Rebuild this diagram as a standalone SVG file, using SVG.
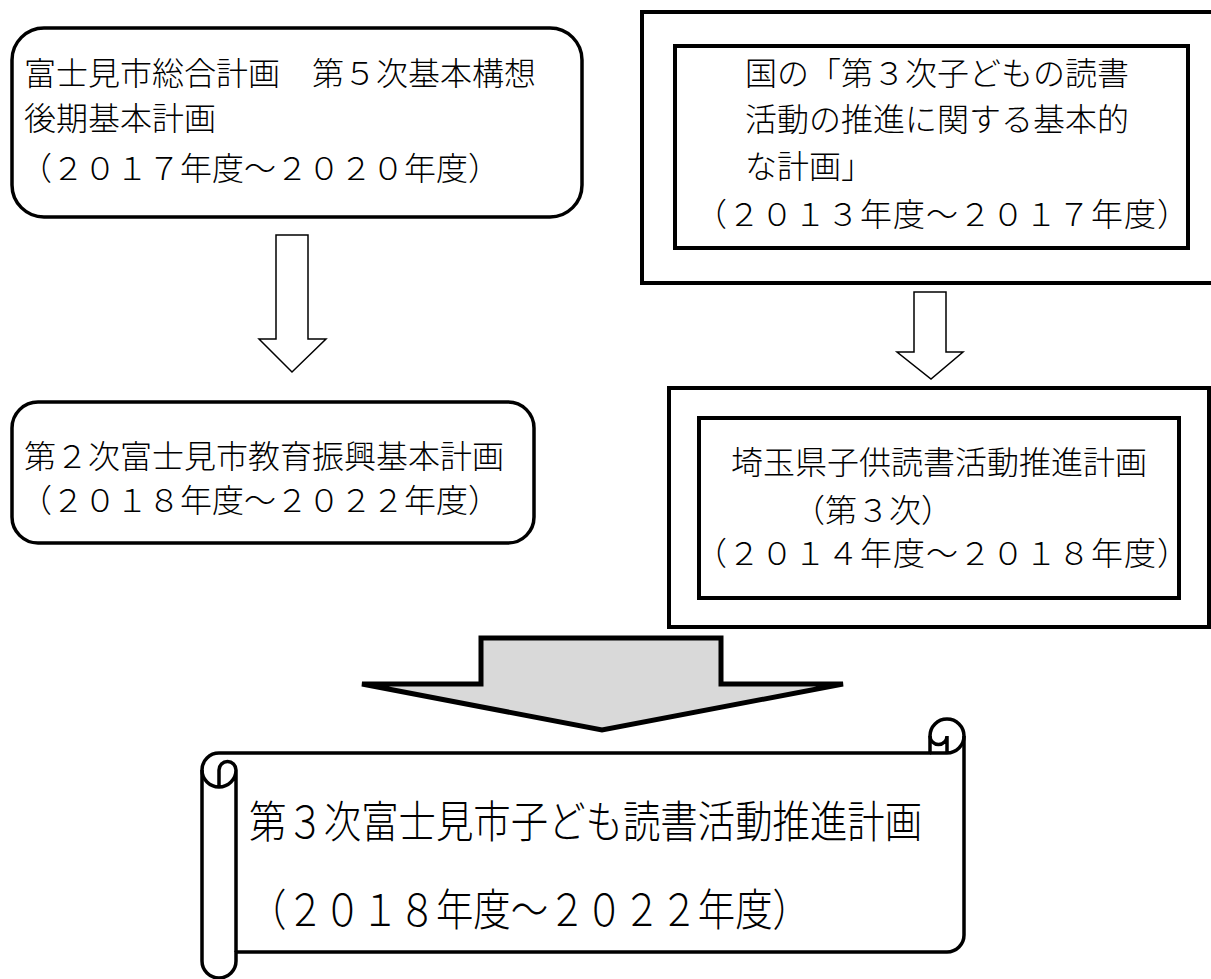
<svg xmlns="http://www.w3.org/2000/svg" width="1211" height="979" viewBox="0 0 1211 979">
  <style>
    .t { font-family: "Noto Sans CJK JP", "Noto Sans", sans-serif; font-size: 32px; font-weight: 300; fill: #000; }
    .box { fill: #fff; stroke: #000; stroke-width: 3.5; }
    .frame { fill: #fff; stroke: #000; stroke-width: 4; }
    .hollow { fill: #fff; stroke: #000; stroke-width: 1.5; stroke-linejoin: miter; }
    .big { fill: #d9d9d9; stroke: #000; stroke-width: 5; stroke-linejoin: miter; }
    .scroll { fill: #fff; stroke: #000; stroke-width: 3.5; stroke-linejoin: round; }
    .scrollline { fill: none; stroke: #000; stroke-width: 3.5; }
  </style>
  <rect width="1211" height="979" fill="#fff"/>

  <g id="node-sogo">
    <rect class="box" x="12" y="28" width="570" height="189" rx="32" ry="32"/>
    <text class="t" x="24" y="85">富士見市総合計画　第５次基本構想</text>
    <text class="t" x="24" y="130">後期基本計画</text>
    <text class="t" x="20" y="180">（２０１７年度～２０２０年度）</text>
  </g>

  <g id="node-kyoiku">
    <rect class="box" x="12" y="402" width="522" height="141" rx="26" ry="26"/>
    <text class="t" x="24" y="468">第２次富士見市教育振興基本計画</text>
    <text class="t" x="20" y="512">（２０１８年度～２０２２年度）</text>
  </g>

  <g id="node-kuni">
    <rect class="frame" x="642" y="12" width="600" height="271"/>
    <rect class="frame" x="675" y="46" width="513" height="202"/>
    <text class="t" x="745" y="85">国の「第３次子どもの読書</text>
    <text class="t" x="745" y="131">活動の推進に関する基本的</text>
    <text class="t" x="745" y="178">な計画」</text>
    <text class="t" x="695" y="226" letter-spacing="1">（２０１３年度～２０１７年度）</text>
  </g>

  <g id="node-saitama">
    <rect class="frame" x="669" y="388" width="540" height="239"/>
    <rect class="frame" x="699" y="418" width="480" height="180"/>
    <text class="t" x="731" y="474">埼玉県子供読書活動推進計画</text>
    <text class="t" x="793" y="522">（第３次）</text>
    <text class="t" x="695" y="565" letter-spacing="1">（２０１４年度～２０１８年度）</text>
  </g>

  <g id="node-result">
    <path class="scroll" d="M 202 770 A 17 17 0 0 1 219 753 L 930 753 L 930 736 A 17 17 0 0 1 964 736 L 964 935 A 17 17 0 0 1 947 952 L 236 952 L 236 961 A 17 17 0 0 1 202 961 Z"/>
    <path class="scrollline" d="M 930 753 L 947 753 A 17 17 0 0 0 964 736 M 947 753 L 947 736 A 8.5 8.5 0 0 1 930 736 M 219 787 L 219 770 A 8.5 8.5 0 0 1 236 770 A 17 17 0 0 1 202 770 M 236 770 L 236 952"/>
    <text class="t" transform="translate(249 838) scale(0.85 1)" style="font-size:44px">第３次富士見市子ども読書活動推進計画</text>
    <text class="t" transform="translate(249 926) scale(0.85 1)" style="font-size:44px">（２０１８年度～２０２２年度）</text>
  </g>

  <g id="connectors">
    <polygon class="hollow" points="276,235 308,235 308,339 326,339 292,372 259,339 276,339"/>
    <polygon class="hollow" points="914,292 946,292 946,352 963,352 931,379 897,352 914,352"/>
    <polygon class="big" points="481,638 721,638 721,684 843,684 602,730 362,684 481,684"/>
  </g>
</svg>
